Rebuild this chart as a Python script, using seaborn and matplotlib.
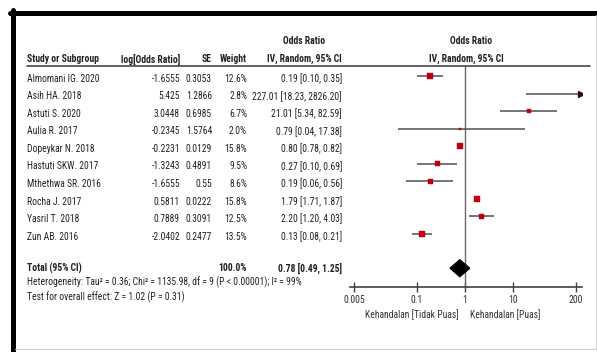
import matplotlib
matplotlib.use("Agg")
import matplotlib.pyplot as plt
import matplotlib.transforms as mtransforms
from matplotlib.lines import Line2D
from matplotlib import font_manager
import seaborn as sns
import pandas as pd
import numpy as np

sns.set_theme(style="white")

names = {f.name for f in font_manager.fontManager.ttflist}
narrow = None
for cand in ["Liberation Sans Narrow", "Roboto Condensed", "Open Sans Condensed", "Arial Narrow"]:
    if cand in names:
        narrow = cand
        break
if narrow:
    plt.rcParams['font.family'] = [narrow, 'Liberation Sans', 'DejaVu Sans']
    fs = 6.95
else:
    plt.rcParams['font.family'] = ['Liberation Sans', 'DejaVu Sans']
    fs = 6.2

studies = ["Almomani IG. 2020", "Asih HA. 2018", "Astuti S. 2020", "Aulia R. 2017",
           "Dopeykar N. 2018", "Hastuti SKW. 2017", "Mthethwa SR. 2016", "Rocha J. 2017",
           "Yasril T. 2018", "Zun AB. 2016"]
log_or = ["-1.6555", "5.425", "3.0448", "-0.2345", "-0.2231", "-1.3243", "-1.6555",
          "0.5811", "0.7889", "-2.0402"]
se = ["0.3053", "1.2866", "0.6985", "1.5764", "0.0129", "0.4891", "0.55", "0.0222",
      "0.3091", "0.2477"]
weight = [12.6, 2.8, 6.7, 2.0, 15.8, 9.5, 8.6, 15.8, 12.5, 13.5]
odds = [0.19, 227.01, 21.01, 0.79, 0.80, 0.27, 0.19, 1.79, 2.20, 0.13]
ci_lo = [0.10, 18.23, 5.34, 0.04, 0.78, 0.10, 0.06, 1.71, 1.20, 0.08]
ci_hi = [0.35, 2826.20, 82.59, 17.38, 0.82, 0.69, 0.56, 1.87, 4.03, 0.21]
total_or, total_lo, total_hi = 0.78, 0.49, 1.25
xticks = [0.005, 0.1, 1, 10, 200]
xtick_labels = ["0.005", "0.1", "1", "10", "200"]

W, H = 597, 352
fig = plt.figure(figsize=(W / 100, H / 100), dpi=100)
fig.patch.set_facecolor("white")

def fx(px):
    return px / W

def fy(py):
    return 1 - py / H

ax_l, ax_r, ax_t, ax_b = 350, 582, 66, 287
ax = fig.add_axes([fx(ax_l), fy(ax_b), fx(ax_r - ax_l), (ax_b - ax_t) / H])
ax.set_facecolor("white")

xmin, xmax = 0.005 * 10 ** -0.083, 200 * 10 ** 0.124
ax.set_xscale("log")
ax.set_xlim(xmin, xmax)
ax.set_ylim(12.02, -0.57)

df = pd.DataFrame({"study": studies, "or": odds, "lo": ci_lo, "hi": ci_hi,
                   "weight": weight, "row": np.arange(len(studies))})

line_col = "#505050"
red = "#c00010"

# vertical line at 1
ax.axvline(1, color="#6a6a6a", lw=1.0, zorder=1)

# CI lines
for _, r in df.iterrows():
    hi = min(r["hi"], 200 * 10 ** 0.105)
    ax.plot([r["lo"], hi], [r["row"], r["row"]], color=line_col, lw=1.1,
            solid_capstyle="butt", zorder=2)
    if r["hi"] > hi:
        ax.plot([hi], [r["row"]], marker=">", color="#301010", ms=4, zorder=3)

vis = df[df["or"] < 200]
sns.scatterplot(data=vis, x="or", y="row", size="weight", sizes=(2.4, 20),
                size_norm=(2.0, 15.8), marker="s", color=red, edgecolor=red,
                linewidth=0.3, legend=False, ax=ax, zorder=4)

# diamond
ty = 10.95
ax.fill([total_lo, total_or, total_hi, total_or], [ty, ty - 0.48, ty, ty + 0.48],
        color="black", zorder=4)

ax.set_xticks(xticks)
ax.set_xticklabels(xtick_labels)
ax.xaxis.set_minor_locator(matplotlib.ticker.NullLocator())
ax.tick_params(axis="x", direction="inout", length=7, width=1, color="#404040",
               labelsize=fs + 0.2, labelcolor="#333333", pad=2, bottom=True)
ax.set_yticks([])
ax.set_xlabel("")
ax.set_ylabel("")
for s in ["top", "left", "right"]:
    ax.spines[s].set_visible(False)
ax.spines["bottom"].set_color("#404040")
ax.spines["bottom"].set_linewidth(1.2)

# text
tr = mtransforms.blended_transform_factory(fig.transFigure, ax.transData)
tc = "#222222"
dy = 0.15
for i in range(len(studies)):
    y = i + dy
    fig.text(fx(27), y, studies[i], transform=tr, ha="left", va="center", fontsize=fs, color=tc)
    fig.text(fx(180), y, log_or[i], transform=tr, ha="right", va="center", fontsize=fs, color=tc)
    fig.text(fx(212), y, se[i], transform=tr, ha="right", va="center", fontsize=fs, color=tc)
    fig.text(fx(247), y, f"{weight[i]:.1f}%", transform=tr, ha="right", va="center", fontsize=fs, color=tc)
    fig.text(fx(342), y, f"{odds[i]:.2f} [{ci_lo[i]:.2f}, {ci_hi[i]:.2f}]", transform=tr,
             ha="right", va="center", fontsize=fs, color=tc)

fig.text(fx(27), fy(268), "Total (95% CI)", ha="left", va="center", fontsize=fs, color=tc, fontweight="bold")
fig.text(fx(247), fy(268), "100.0%", ha="right", va="center", fontsize=fs, color=tc, fontweight="bold")
fig.text(fx(342), fy(268), f"{total_or:.2f} [{total_lo:.2f}, {total_hi:.2f}]",
         ha="right", va="center", fontsize=fs, color=tc, fontweight="bold")
fig.text(fx(27), fy(282), "Heterogeneity: Tau² = 0.36; Chi² = 1135.98, df = 9 (P < 0.00001); I² = 99%",
         ha="left", va="center", fontsize=fs, color=tc)
fig.text(fx(27), fy(297), "Test for overall effect: Z = 1.02 (P = 0.31)",
         ha="left", va="center", fontsize=fs, color=tc)

# headers
hb = dict(fontsize=fs, color=tc, fontweight="bold", va="center")
fig.text(fx(27), fy(59), "Study or Subgroup", ha="left", **hb)
fig.text(fx(180), fy(59), "log[Odds Ratio]", ha="right", **hb)
fig.text(fx(212), fy(59), "SE", ha="right", **hb)
fig.text(fx(247), fy(59), "Weight", ha="right", **hb)
fig.text(fx(304), fy(41), "Odds Ratio", ha="center", **hb)
fig.text(fx(304), fy(59), "IV, Random, 95% CI", ha="center", **hb)
fig.text(fx(471), fy(41), "Odds Ratio", ha="center", **hb)
fig.text(fx(466), fy(59), "IV, Random, 95% CI", ha="center", **hb)

fig.text(fx(459), fy(315), "Kehandalan [Tidak Puas]", ha="right", va="center", fontsize=fs, color="#333333")
fig.text(fx(470), fy(315), "Kehandalan [Puas]", ha="left", va="center", fontsize=fs, color="#333333")

# header rule
fig.add_artist(Line2D([fx(27), fx(590)], [fy(66), fy(66)], color="#555555", lw=1.3))

# frame
fig.add_artist(Line2D([fx(10), fx(597)], [fy(12.5), fy(12.5)], color="black", lw=3.6))
fig.add_artist(Line2D([fx(12.5), fx(12.5)], [fy(10), fy(352)], color="black", lw=3.6))
fig.add_artist(Line2D([fx(596), fx(596)], [fy(15), fy(349)], color="#d0d0d0", lw=0.8))
fig.add_artist(Line2D([fx(15), fx(596)], [fy(349), fy(349)], color="#d0d0d0", lw=0.8))

fig.savefig("out.png", dpi=100, facecolor="white")
